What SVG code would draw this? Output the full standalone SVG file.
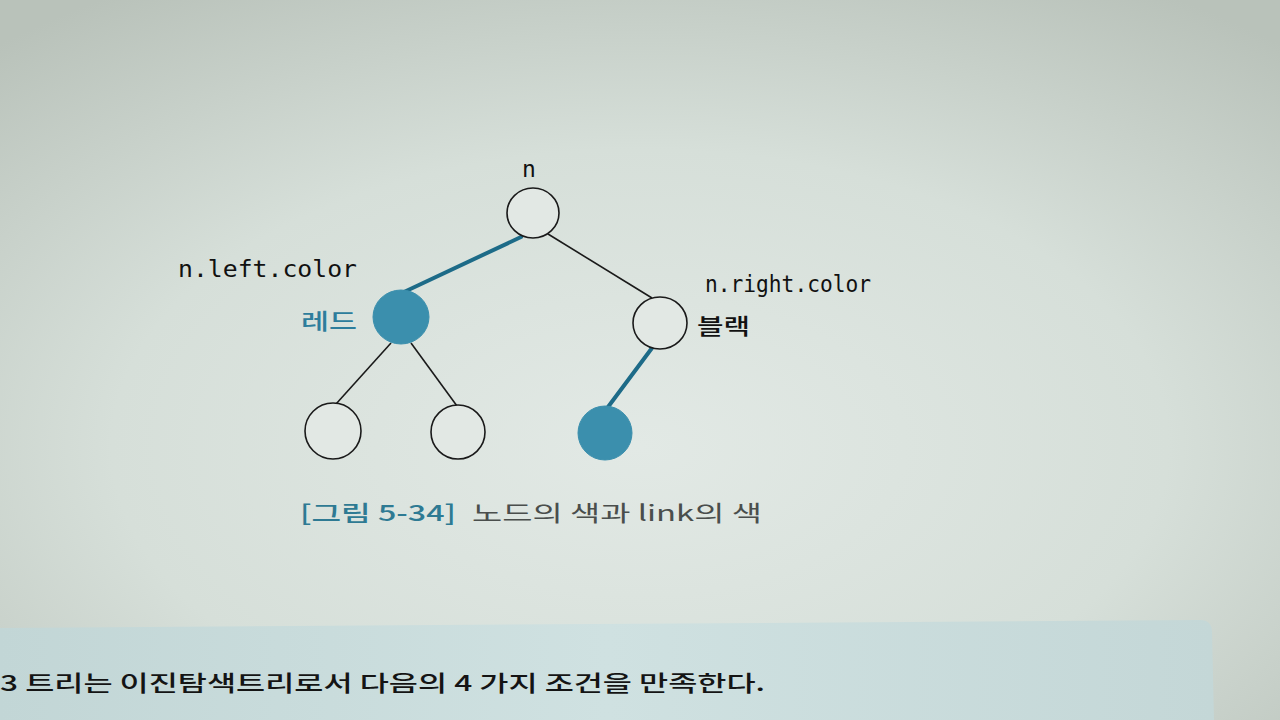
<svg xmlns="http://www.w3.org/2000/svg" width="1280" height="720" viewBox="0 0 1280 720">
<defs>
<radialGradient id="page" cx="0.5" cy="0.62" r="0.75">
<stop offset="0" stop-color="#e2e9e5"/>
<stop offset="0.55" stop-color="#d6dfd9"/>
<stop offset="1" stop-color="#b9c2ba"/>
</radialGradient>
<linearGradient id="band" x1="0" y1="0" x2="1" y2="0">
<stop offset="0" stop-color="#c2d6d6"/>
<stop offset="0.5" stop-color="#cfe1e1"/>
<stop offset="1" stop-color="#c4d7d7"/>
</linearGradient>
<style>
.node{stroke:#1a1a1a;stroke-width:1.6;fill:#e2e8e4}
.red{fill:#3b8fad;stroke:#3b8fad;stroke-width:1}
.thin{stroke:#1a1a1a;stroke-width:1.6;fill:none}
.thick{stroke:#1d6b88;stroke-width:4;fill:none;stroke-linecap:round}
.mono{font-family:"DejaVu Sans Mono","Liberation Mono",monospace;font-size:23px;fill:#111}
.kr{font-family:"Noto Sans CJK KR","Noto Sans",sans-serif;font-size:22px}
</style>
</defs>
<rect width="1280" height="720" fill="url(#page)"/>
<path d="M0 628 L1200 620 Q1212 620 1212 632 L1214 720 L0 720 Z" fill="url(#band)"/>

<g id="connectors">
<line class="thick" x1="521" y1="237" x2="404" y2="292"/>
<line class="thin" x1="548" y1="234" x2="652" y2="298"/>
<line class="thin" x1="391" y1="343" x2="336" y2="404"/>
<line class="thin" x1="411" y1="343" x2="457" y2="406"/>
<line class="thick" x1="652" y1="348" x2="608" y2="407"/>
</g>

<g id="root">
<ellipse class="node" cx="533" cy="213" rx="26" ry="25"/>
<text class="mono" x="529" y="177" text-anchor="middle">n</text>
</g>
<g id="left">
<ellipse class="red" cx="401" cy="317" rx="28" ry="27"/>
<text class="mono" x="178" y="277" textLength="179" lengthAdjust="spacingAndGlyphs">n.left.color</text>
<text class="kr" x="301" y="329" fill="#2d7d9c" font-weight="500" textLength="56" lengthAdjust="spacingAndGlyphs">레드</text>
</g>
<g id="right">
<ellipse class="node" cx="660" cy="323" rx="27" ry="26"/>
<text class="mono" x="705" y="292" textLength="166" lengthAdjust="spacingAndGlyphs">n.right.color</text>
<text class="kr" x="697" y="334" fill="#111" font-weight="500" textLength="53" lengthAdjust="spacingAndGlyphs">블랙</text>
</g>
<g id="leftleft">
<ellipse class="node" cx="333" cy="431" rx="28" ry="28"/>
</g>
<g id="leftright">
<ellipse class="node" cx="458" cy="432" rx="27" ry="27"/>
</g>
<g id="rightleft">
<ellipse class="red" cx="605" cy="433" rx="27" ry="27"/>
</g>

<g id="caption">
<text class="kr" x="300" y="521" font-size="26" fill="#2e7a93" font-weight="500" textLength="156" lengthAdjust="spacingAndGlyphs">[그림 5-34]</text>
<text class="kr" x="472" y="521" font-size="26" fill="#4a4e4c" textLength="290" lengthAdjust="spacingAndGlyphs">노드의 색과 link의 색</text>
</g>
<text class="kr" x="0" y="691" font-size="26" fill="#141414" font-weight="500" textLength="765" lengthAdjust="spacingAndGlyphs">3 트리는 이진탐색트리로서 다음의 4 가지 조건을 만족한다.</text>
</svg>
